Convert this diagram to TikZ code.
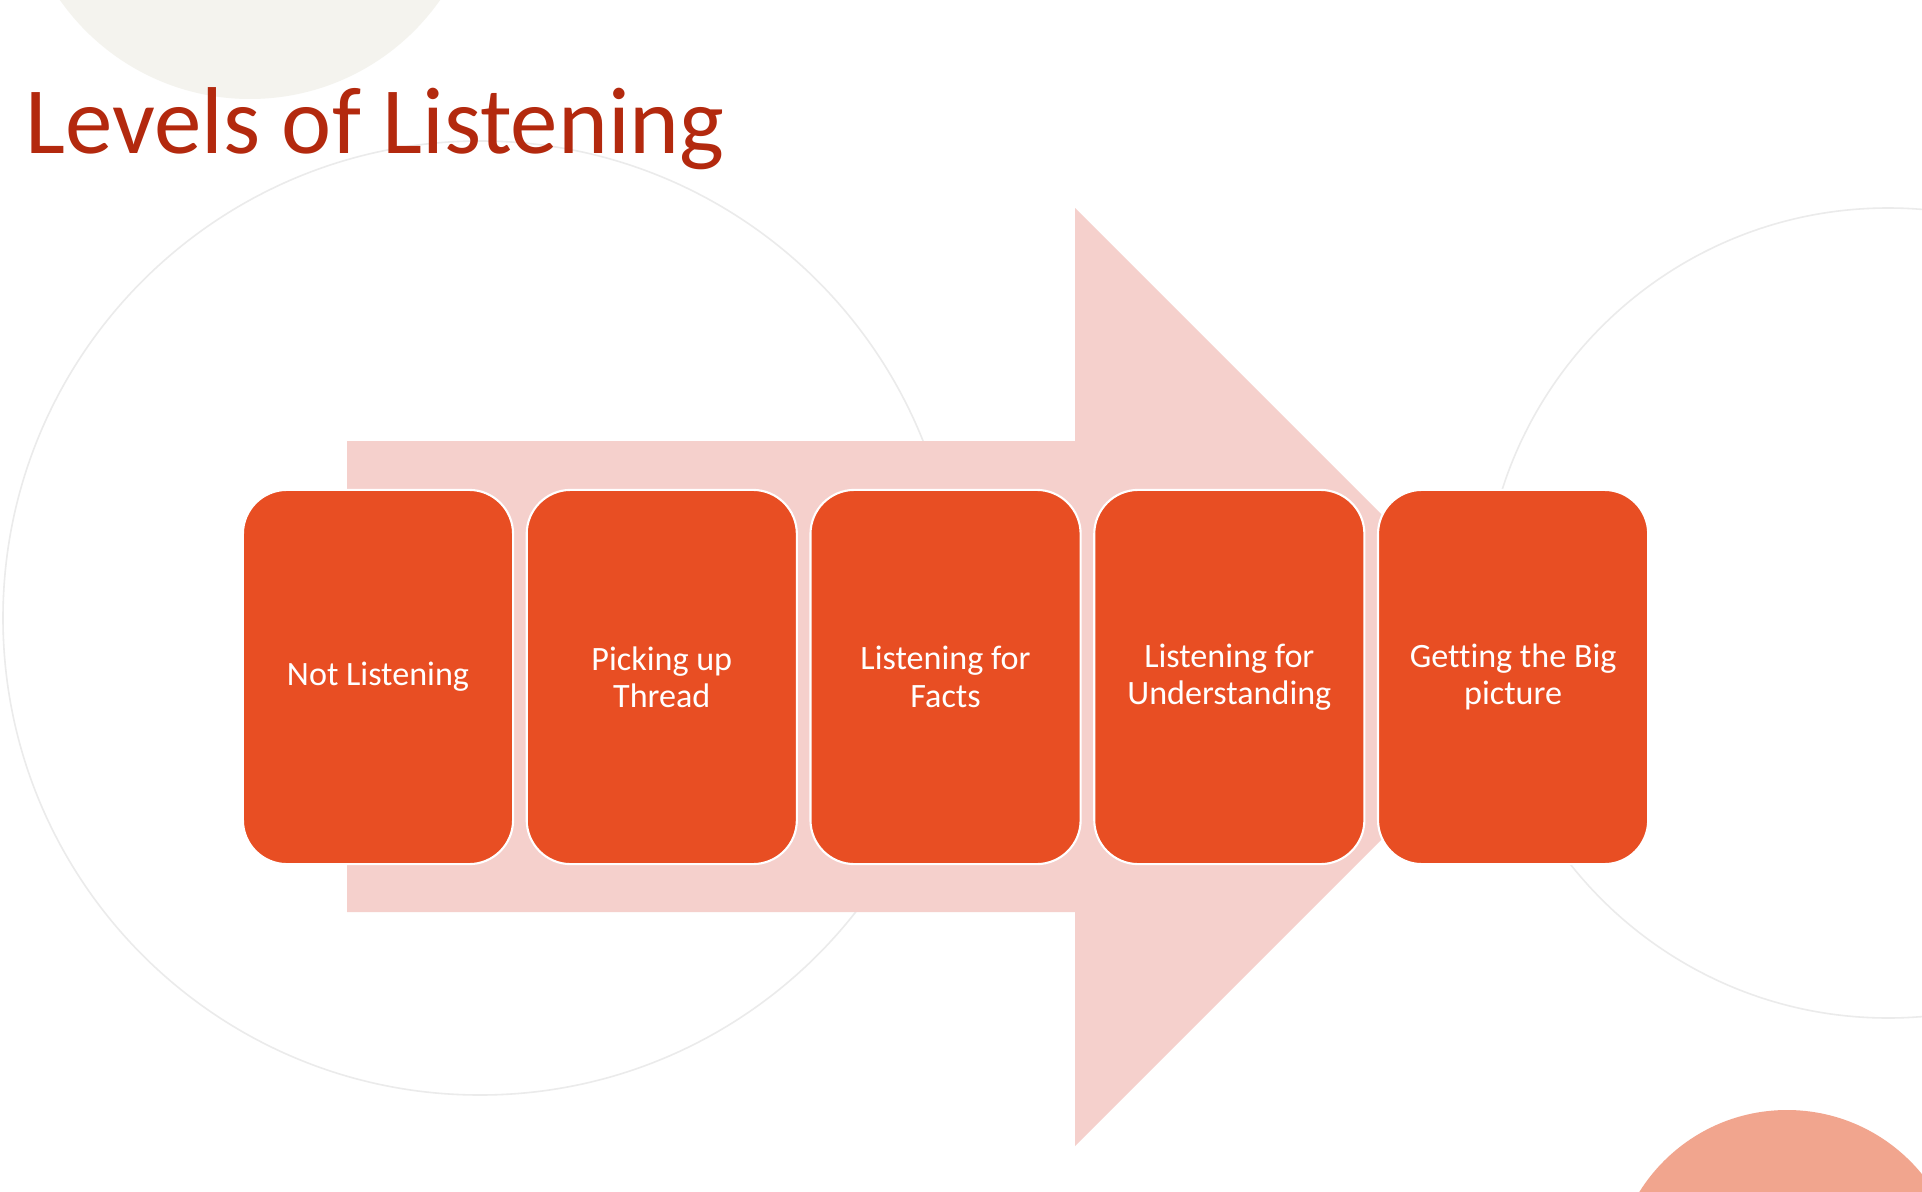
\documentclass[tikz,border=0pt]{standalone}
\usepackage{fontspec}
\setmainfont[Ligatures=NoCommon]{Carlito}
\usetikzlibrary{positioning}
\definecolor{titlered}{HTML}{B3290E}
\definecolor{steporange}{HTML}{E84E23}
\definecolor{arrowpink}{HTML}{F5D0CC}
\definecolor{sandbeige}{HTML}{F4F3EE}
\definecolor{salmon}{HTML}{F1A58E}
\definecolor{faintgray}{HTML}{EBEBEB}

\begin{document}
\begin{tikzpicture}[x=0.01cm,y=-0.01cm,
    level/.style={draw=white, line width=0.6pt, fill=steporange,
      rounded corners=0.44cm, minimum width=2.7cm, minimum height=3.74cm,
      text=white, align=center, inner sep=0pt,
      font=\fontsize{9.7}{10.6}\selectfont}]
    \clip (0,0) rectangle (1922,1191);
    \fill[white] (0,0) rectangle (1922,1191);
    % background circles
    \fill[sandbeige] (250,-133) circle[radius=232];
    \draw[faintgray, line width=0.45pt] (480,618) circle[radius=477];
    \draw[faintgray, line width=0.45pt] (1888,613) circle[radius=405];
    \fill[salmon] (1787,1284) circle[radius=174];
    % title
    \node[anchor=base west, inner sep=0pt, text=titlered,
      font=\fontsize{27}{30}\selectfont] (title) at (25,153) {Levels of Listening};
    % big arrow behind the steps
    \fill[arrowpink] (347,441) -- (1075,441) -- (1075,208) -- (1544,677)
      -- (1075,1146) -- (1075,912) -- (347,912) -- cycle;
    % steps
    \node[level] (notlist) at (378,677) {Not Listening};
    \node[level, right=0.115cm of notlist] (thread) {Picking up\\Thread};
    \node[level, right=0.115cm of thread] (facts) {Listening for\\Facts};
    \node[level, right=0.115cm of facts] (underst) {Listening for\\Understanding};
    \node[level, right=0.115cm of underst] (bigpic) {Getting the Big\\picture};
\end{tikzpicture}
\end{document}
